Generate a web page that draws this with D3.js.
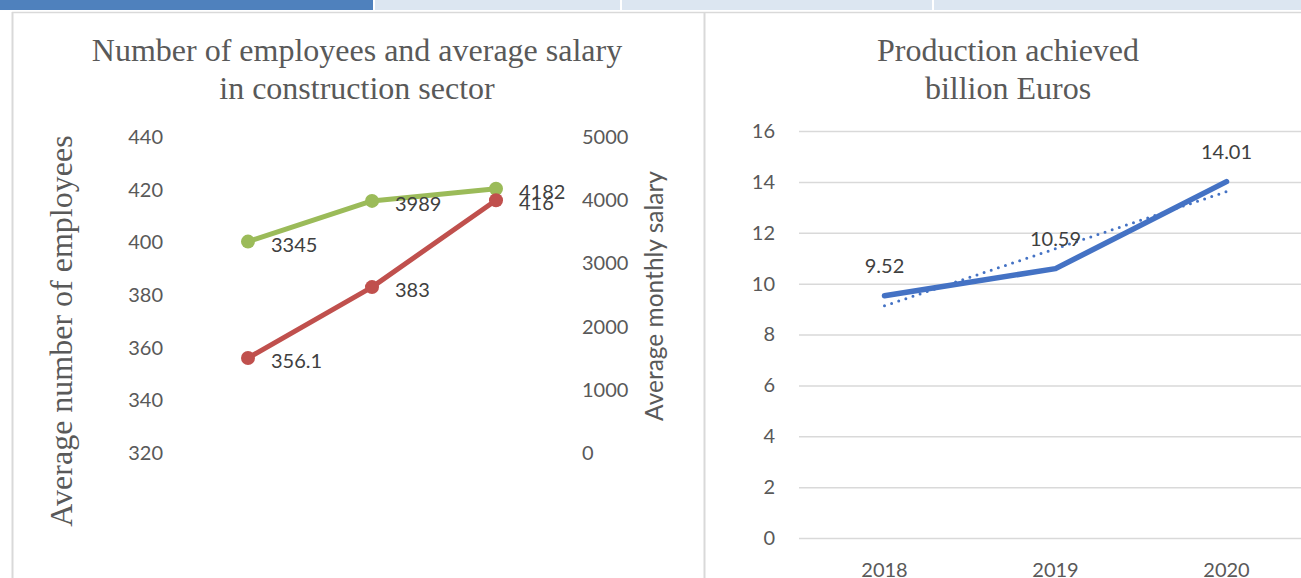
<!DOCTYPE html>
<html><head><meta charset="utf-8">
<script src="https://cdn.jsdelivr.net/npm/d3@7"></script>
<style>body{margin:0;background:#fff;} svg{display:block}</style>
</head><body><svg id="c" width="1301" height="578"></svg>
<script>
const years = ["2018", "2019", "2020"];
const employees = [356.1, 383, 416];
const salary = [3345, 3989, 4182];
const production = [9.52, 10.59, 14.01];
const employeeTicks = [320, 340, 360, 380, 400, 420, 440];
const salaryTicks = [0, 1000, 2000, 3000, 4000, 5000];
const productionTicks = [0, 2, 4, 6, 8, 10, 12, 14, 16];
const leftTitle = ["Number of employees and average salary", "in construction sector"];
const rightTitle = ["Production achieved", "billion Euros"];
const leftAxisTitle = "Average number of employees";
const rightAxisTitle = "Average monthly salary";

const svg = d3.select("#c");
const SANS = "Lato, 'Open Sans', sans-serif";
const SERIF = "'Liberation Serif', 'Times New Roman', serif";
const TXT = "#595959";
const tickSize = 20;

// top tab bar
[[0, 373, "#4f81bd"], [375, 620, "#dce6f1"], [622, 932, "#dce6f1"], [934, 1301, "#dce6f1"]].forEach(([a, b, c]) => {
  svg.append("rect").attr("x", a).attr("y", 0).attr("width", b - a).attr("height", 10).attr("fill", c);
});
// panel borders
svg.append("line").attr("x1", 12).attr("x2", 1301).attr("y1", 12.5).attr("y2", 12.5).attr("stroke", "#d9d9d9").attr("stroke-width", 1.5);
svg.append("line").attr("x1", 12.5).attr("x2", 12.5).attr("y1", 12).attr("y2", 578).attr("stroke", "#d9d9d9").attr("stroke-width", 2);
svg.append("line").attr("x1", 704.5).attr("x2", 704.5).attr("y1", 12).attr("y2", 578).attr("stroke", "#d9d9d9").attr("stroke-width", 2);

function styleAxis(g) {
  g.select(".domain").remove();
  g.selectAll(".tick line").remove();
  g.selectAll("text").attr("font-family", SANS).attr("font-size", tickSize).attr("fill", TXT);
}

// ---------- LEFT CHART ----------
const xL = d3.scalePoint().domain(years).range([248, 496]);
const yEmp = d3.scaleLinear().domain([320, 440]).range([453, 137]);
const ySal = d3.scaleLinear().domain([0, 5000]).range([453, 137]);

svg.append("g").attr("transform", "translate(165,0)")
  .call(d3.axisLeft(yEmp).tickValues(employeeTicks).tickSize(0).tickPadding(2).tickFormat(d3.format("d"))).call(styleAxis);
svg.append("g").attr("transform", "translate(580,0)")
  .call(d3.axisRight(ySal).tickValues(salaryTicks).tickSize(0).tickPadding(2).tickFormat(d3.format("d"))).call(styleAxis);

const tL = svg.append("text").attr("font-family", SERIF).attr("font-size", 32).attr("fill", TXT).attr("text-anchor", "middle");
leftTitle.forEach((s, i) => tL.append("tspan").attr("x", 357).attr("y", 61 + i * 38).text(s));

svg.append("text").attr("transform", "translate(72,331) rotate(-90)").attr("text-anchor", "middle")
  .attr("font-family", SERIF).attr("font-size", 32).attr("fill", TXT).text(leftAxisTitle);
svg.append("text").attr("transform", "translate(663,296) rotate(-90)").attr("text-anchor", "middle")
  .attr("font-family", SANS).attr("font-size", 24.5).attr("fill", TXT).text(rightAxisTitle);

function series(vals, y, color) {
  const line = d3.line().x((d, i) => xL(years[i])).y(d => y(d));
  svg.append("path").datum(vals).attr("d", line).attr("fill", "none").attr("stroke", color)
    .attr("stroke-width", 5).attr("stroke-linejoin", "round").attr("stroke-linecap", "round");
  svg.append("g").selectAll("circle").data(vals).join("circle")
    .attr("cx", (d, i) => xL(years[i])).attr("cy", d => y(d)).attr("r", 7).attr("fill", color);
}
series(salary, ySal, "#9bbb59");
series(employees, yEmp, "#c0504d");

function labels(vals, y) {
  svg.append("g").selectAll("text").data(vals).join("text")
    .attr("x", (d, i) => xL(years[i]) + 23).attr("y", d => y(d) + 3).attr("dy", "0.35em")
    .attr("font-family", SANS).attr("font-size", tickSize).attr("fill", "#404040").text(d => d);
}
labels(salary, ySal);
labels(employees, yEmp);

// ---------- RIGHT CHART ----------
const xR = d3.scaleBand().domain(years).range([799, 1312]);
const yP = d3.scaleLinear().domain([0, 16]).range([538, 131]);

svg.append("g").attr("transform", "translate(799,0)")
  .call(d3.axisLeft(yP).tickValues(productionTicks).tickSize(-513).tickFormat(""))
  .call(g => { g.select(".domain").remove(); g.selectAll(".tick line").attr("stroke", "#d9d9d9").attr("stroke-width", 1.5); });

svg.append("g").attr("transform", "translate(777,0)")
  .call(d3.axisLeft(yP).tickValues(productionTicks).tickSize(0).tickPadding(2)).call(styleAxis);
svg.append("g").attr("transform", "translate(0,538)")
  .call(d3.axisBottom(xR).tickSize(0).tickPadding(25)).call(styleAxis);

const tR = svg.append("text").attr("font-family", SERIF).attr("font-size", 32).attr("fill", TXT).attr("text-anchor", "middle");
rightTitle.forEach((s, i) => tR.append("tspan").attr("x", 1008).attr("y", 61 + i * 38).text(s));

const cx = (d, i) => xR(years[i]) + xR.bandwidth() / 2;
// linear trendline (least squares over category index)
const mx = d3.mean(production, (d, i) => i), my = d3.mean(production);
const slope = d3.sum(production, (d, i) => (i - mx) * (d - my)) / d3.sum(production, (d, i) => (i - mx) ** 2);
const trend = production.map((d, i) => my + slope * (i - mx));

svg.append("path").datum(trend).attr("d", d3.line().x(cx).y(d => yP(d)))
  .attr("fill", "none").attr("stroke", "#4472c4").attr("stroke-width", 3)
  .attr("stroke-dasharray", "0 7.5").attr("stroke-linecap", "round");
svg.append("path").datum(production).attr("d", d3.line().x(cx).y(d => yP(d)))
  .attr("fill", "none").attr("stroke", "#4472c4").attr("stroke-width", 5.5)
  .attr("stroke-linejoin", "round").attr("stroke-linecap", "round");
svg.append("g").selectAll("text").data(production).join("text")
  .attr("x", cx).attr("y", d => yP(d) - 30).attr("dy", "0.35em").attr("text-anchor", "middle")
  .attr("font-family", SANS).attr("font-size", tickSize).attr("fill", "#404040").text(d => d.toFixed(2));
</script></body></html>
